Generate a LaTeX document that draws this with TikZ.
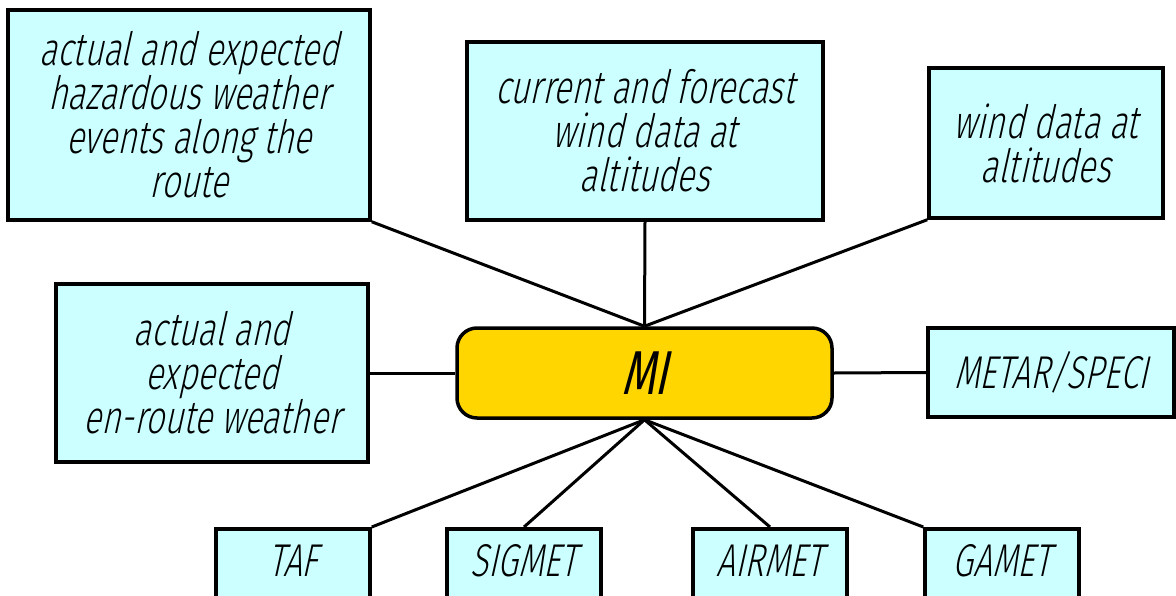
\documentclass[tikz,border=0pt]{standalone}
\usepackage{fontspec}
\usepackage{tikz}
\newfontfamily\isofont[FakeStretch=0.72,FakeSlant=0.22]{Fira Sans Light}
\newfontfamily\isomid[FakeStretch=0.7,FakeSlant=0.22]{Fira Sans}
\definecolor{paleCyan}{RGB}{204,255,255}
\definecolor{miGold}{RGB}{255,214,0}

\begin{document}
\begin{tikzpicture}[x=1pt,y=-1pt]
	\tikzset{info/.style={draw,line width=3.5pt,fill=paleCyan,align=center,inner sep=0pt,font=\isofont\fontsize{46}{44}\selectfont}}
	\tikzset{msg/.style={info,anchor=north,minimum width=154pt,text height=48pt,text depth=70pt}}
	\tikzset{link/.style={line width=3pt}}
	%\tikzset{every node/.style={draw=red}}
	\clip (0,0) rectangle (1176,595);
	\node[info,minimum width=362pt,minimum height=210pt] (hazard) at (189,115) {actual and expected\\hazardous weather\\events along the\\route};
	\node[info,minimum width=356pt,minimum height=178pt] (forecast) at (645,131) {current and forecast\\wind data at\\altitudes};
	\node[info,minimum width=234pt,minimum height=150pt] (winds) at (1046,143) {wind data at\\altitudes};
	\node[info,minimum width=312pt,minimum height=178pt] (enroute) at (212,373) {actual and\\expected\\en-route weather};
	\node[draw,line width=3.5pt,fill=miGold,rounded corners=20pt,minimum width=375pt,minimum height=90pt,font=\isomid\fontsize{62}{62}\selectfont] (mi) at (644.5,373) {MI};
	\node[info,minimum width=246pt,minimum height=89pt] (metar) at (1051,372.5) {METAR/SPECI};
	\node[msg] (taf) at (293,527) {TAF};
	\node[msg] (sigmet) at (524,527) {SIGMET};
	\node[msg] (airmet) at (770,527) {AIRMET};
	\node[msg] (gamet) at (1002,527) {GAMET};
	\draw[link] (hazard.south east) -- (mi.north);
	\draw[link] (forecast.south) -- (mi.north);
	\draw[link] (winds.south west) -- (mi.north);
	\draw[link] (enroute.east) -- (mi.west);
	\draw[link] (mi.east) -- (metar.west);
	\draw[link] (mi.south) -- (taf.north east);
	\draw[link] (mi.south) -- (sigmet.north);
	\draw[link] (mi.south) -- (airmet.north);
	\draw[link] (mi.south) -- (gamet.north west);
\end{tikzpicture}
\end{document}
